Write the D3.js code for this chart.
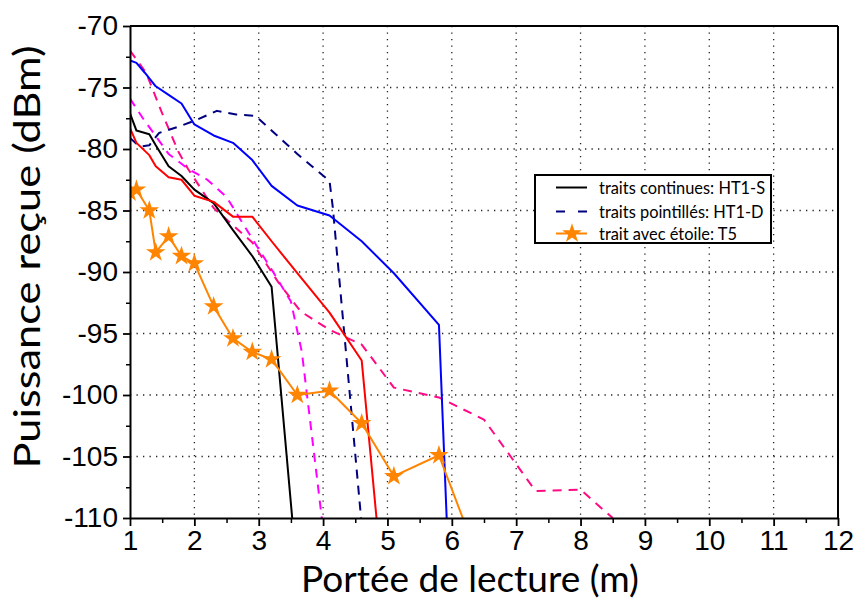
<!DOCTYPE html>
<html><head><meta charset="utf-8">
<script src="https://cdn.jsdelivr.net/npm/d3@7"></script>
<style>body{margin:0;background:#fff}svg{display:block}</style>
</head><body>
<svg id="c" width="858" height="601"></svg>
<script>
const xTicks = [1,2,3,4,5,6,7,8,9,10,11,12];
const yTicks = [-70,-75,-80,-85,-90,-95,-100,-105,-110];

const blackS = [[1.0,-77.1],[1.1,-78.5],[1.3,-78.8],[1.4,-79.7],[1.6,-81.4],[1.8,-82.2],[2.0,-83.3],[2.3,-84.4],[2.6,-86.6],[2.9,-88.7],[3.2,-91.2],[3.52,-110]];
const redS = [[1.0,-78.3],[1.1,-79.5],[1.3,-80.5],[1.4,-81.4],[1.6,-82.3],[1.8,-82.5],[2.0,-83.8],[2.3,-84.3],[2.6,-85.5],[2.9,-85.5],[3.2,-87.5],[3.6,-90.1],[4.1,-93.3],[4.6,-97.2],[4.83,-110]];
const blueS = [[1.0,-72.8],[1.1,-73.0],[1.23,-73.8],[1.4,-74.9],[1.6,-75.6],[1.8,-76.3],[2.0,-78.0],[2.3,-78.9],[2.6,-79.5],[2.9,-80.9],[3.2,-83.0],[3.6,-84.6],[4.1,-85.4],[4.6,-87.5],[5.1,-90.1],[5.8,-94.3],[5.92,-110]];
const navyD = [[1.0,-79.1],[1.15,-79.8],[1.3,-79.7],[1.45,-78.7],[1.8,-78.1],[2.05,-77.6],[2.35,-76.9],[2.65,-77.2],[2.95,-77.3],[3.6,-80.4],[4.1,-82.6],[4.15,-84.7],[4.59,-110]];
const pinkD = [[1.0,-72.0],[1.25,-73.8],[1.5,-77.1],[1.75,-80.2],[1.9,-81.6],[2.3,-84.8],[2.9,-87.6],[3.3,-90.8],[3.65,-93.2],[4.1,-94.7],[4.6,-95.9],[5.1,-99.4],[5.8,-100.2],[6.5,-102.0],[7.3,-107.8],[8.0,-107.7],[8.5,-110]];
const magentaD = [[1.0,-75.9],[1.2,-77.5],[1.6,-80.4],[1.9,-81.6],[2.2,-82.5],[2.5,-83.9],[2.9,-87.3],[3.2,-89.8],[3.5,-92.4],[3.67,-96.5],[3.98,-110]];
const orangeT5 = [[1.0,-83.55],[1.1,-83.3],[1.3,-85.0],[1.4,-88.4],[1.6,-87.1],[1.8,-88.7],[2.0,-89.3],[2.3,-92.8],[2.6,-95.4],[2.9,-96.5],[3.2,-97.1],[3.6,-100.0],[4.1,-99.65],[4.6,-102.3],[5.1,-106.6],[5.8,-104.9],[6.17,-110]];
const orangeStars = orangeT5.slice(0, 16);

const legendLabels = ["traits continues: HT1-S","traits pointillés: HT1-D","trait avec étoile: T5"];

const W = 858, H = 601;
const m = {l:130, t:26, r:20, b:83};
const svg = d3.select("#c");
const x = d3.scaleLinear().domain([1,12]).range([m.l, W-m.r]);
const y = d3.scaleLinear().domain([-110,-70]).range([H-m.b, m.t]);

svg.append("defs").append("clipPath").attr("id","clip").append("rect")
  .attr("x", m.l).attr("y", m.t).attr("width", W-m.l-m.r).attr("height", H-m.t-m.b);

// grid
const grid = svg.append("g").attr("stroke","#222").attr("stroke-width",1.3).attr("stroke-dasharray","1.3,5.2");
xTicks.filter(d=>d>1 && d<12).forEach(d=>{
  grid.append("line").attr("x1",x(d)).attr("x2",x(d)).attr("y1",m.t).attr("y2",H-m.b);
});
yTicks.filter(d=>d>-110 && d<-70).forEach(d=>{
  grid.append("line").attr("x1",m.l).attr("x2",W-m.r).attr("y1",y(d)).attr("y2",y(d));
});

// series
const line = d3.line().x(d=>x(d[0])).y(d=>y(d[1]));
const plot = svg.append("g").attr("clip-path","url(#clip)").attr("fill","none").attr("stroke-width",2).attr("stroke-linejoin","round");
plot.append("path").datum(magentaD).attr("d",line).attr("stroke","#ff00ff").attr("stroke-dasharray","9,7");
plot.append("path").datum(pinkD).attr("d",line).attr("stroke","#ff0a84").attr("stroke-dasharray","9,7");
plot.append("path").datum(navyD).attr("d",line).attr("stroke","#000080").attr("stroke-dasharray","9,7");
plot.append("path").datum(blueS).attr("d",line).attr("stroke","#0000ff");
plot.append("path").datum(blackS).attr("d",line).attr("stroke","#000000");
plot.append("path").datum(redS).attr("d",line).attr("stroke","#ff0000");
plot.append("path").datum(orangeT5).attr("d",line).attr("stroke","#ff8400");
const star = d3.symbol().type(d3.symbolStar).size(120);
svg.append("g").attr("clip-path","url(#clip)").selectAll("path").data(orangeStars).join("path")
  .attr("d", star).attr("transform", d=>`translate(${x(d[0])},${y(d[1])})`).attr("fill","#ff8400");

// axes
const tickFont = "'Liberation Sans', Arial, sans-serif";
const fmt = d => String(d);
const xAxisMinor = d3.axisBottom(x).tickValues(d3.range(1.5,12,1)).tickSize(5).tickFormat("");
const yAxisMinor = d3.axisLeft(y).tickValues(d3.range(-107.5,-70,5)).tickSize(4).tickFormat("");
svg.append("g").attr("transform",`translate(0,${H-m.b})`).call(xAxisMinor).call(g=>{g.select(".domain").remove();g.selectAll("line").attr("stroke-width",1.5);});
svg.append("g").attr("transform",`translate(${m.l},0)`).call(yAxisMinor).call(g=>{g.select(".domain").remove();g.selectAll("line").attr("stroke-width",1.5);});

const xAxis = d3.axisBottom(x).tickValues(xTicks).tickFormat(fmt).tickSize(8).tickSizeOuter(0).tickPadding(4);
const yAxis = d3.axisLeft(y).tickValues(yTicks).tickFormat(fmt).tickSize(7).tickSizeOuter(0).tickPadding(5);
const styleAxis = g=>{
  g.attr("font-family",tickFont).attr("font-size",28);
  g.select(".domain").attr("stroke-width",2);
  g.selectAll("line").attr("stroke-width",1.8);
  g.selectAll("text").attr("font-family",tickFont).attr("font-size",28).attr("fill","#000");
};
svg.append("g").attr("transform",`translate(0,${H-m.b})`).call(xAxis).call(styleAxis);
svg.append("g").attr("transform",`translate(${m.l},0)`).call(yAxis).call(styleAxis);

// frame top/right
svg.append("line").attr("x1",m.l).attr("x2",W-m.r).attr("y1",m.t).attr("y2",m.t).attr("stroke","#000").attr("stroke-width",2);
svg.append("line").attr("x1",W-m.r).attr("x2",W-m.r).attr("y1",m.t).attr("y2",H-m.b).attr("stroke","#000").attr("stroke-width",2);

// axis titles
svg.append("text").attr("x",470).attr("y",592).attr("text-anchor","middle")
  .attr("font-family","Lato, 'Open Sans', sans-serif").attr("font-size",37).text("Portée de lecture (m)");
svg.append("text").attr("transform","translate(40,257) rotate(-90)").attr("text-anchor","middle")
  .attr("font-family","Lato, 'Open Sans', sans-serif").attr("font-size",37)
  .attr("textLength",423).attr("lengthAdjust","spacingAndGlyphs").text("Puissance reçue (dBm)");

// legend
const lg = svg.append("g");
lg.append("rect").attr("x",535).attr("y",175).attr("width",236).attr("height",68).attr("fill","#fff").attr("stroke","#000").attr("stroke-width",2);
const ly = [187.5, 211.5, 233.5];
lg.append("line").attr("x1",556).attr("x2",587).attr("y1",ly[0]).attr("y2",ly[0]).attr("stroke","#000").attr("stroke-width",2);
lg.append("line").attr("x1",556).attr("x2",590).attr("y1",ly[1]).attr("y2",ly[1]).attr("stroke","#000080").attr("stroke-width",2).attr("stroke-dasharray","9,13");
lg.append("line").attr("x1",556).attr("x2",587).attr("y1",ly[2]).attr("y2",ly[2]).attr("stroke","#ff8400").attr("stroke-width",2);
lg.append("path").attr("d",star).attr("transform",`translate(572,${ly[2]})`).attr("fill","#ff8400");
legendLabels.forEach((t,i)=>{
  lg.append("text").attr("x",599).attr("y",ly[i]+6).attr("font-family","Lato, 'Open Sans', sans-serif").attr("font-size",16.4).text(t);
});
</script>
</body></html>
